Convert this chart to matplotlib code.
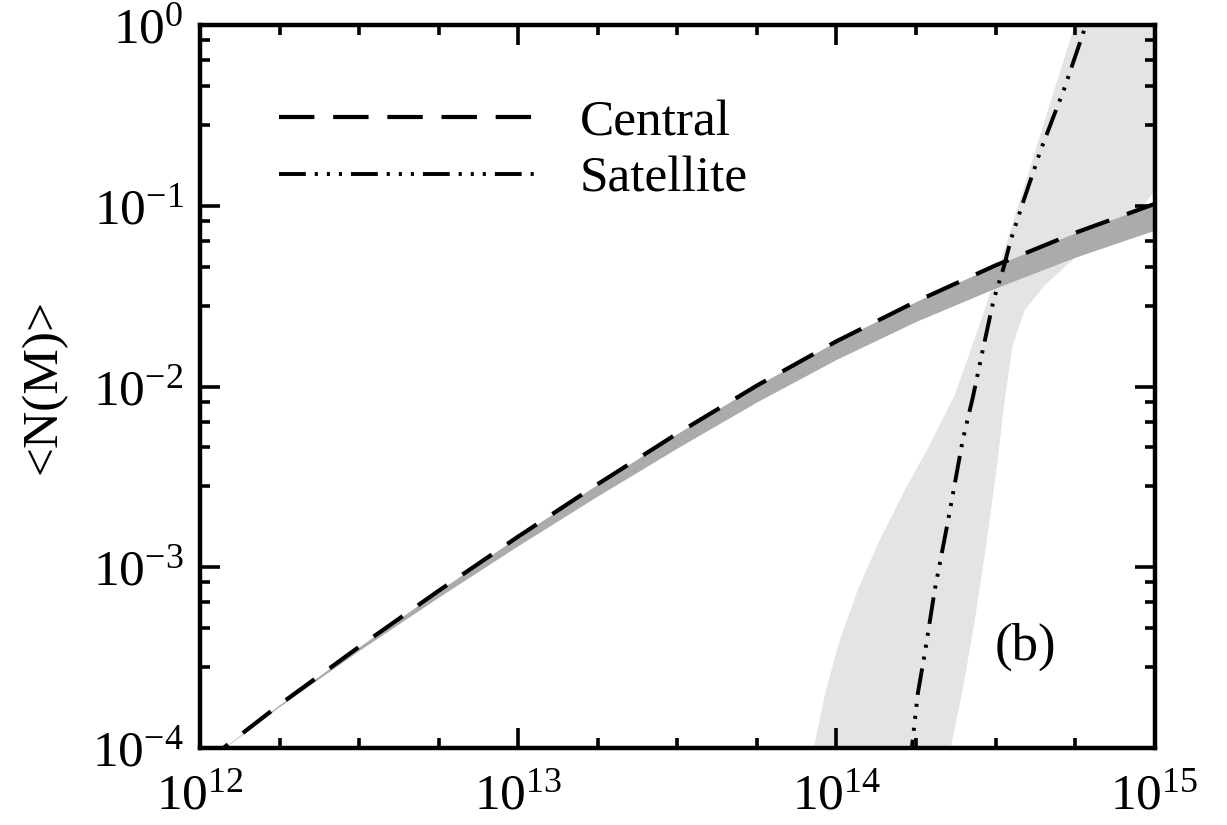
import numpy as np
import matplotlib
matplotlib.use("Agg")
import matplotlib.pyplot as plt
from matplotlib.ticker import LogLocator, NullFormatter, LogFormatterMathtext

plt.rcParams["font.family"] = ["Liberation Serif", "DejaVu Serif"]
plt.rcParams["mathtext.fontset"] = "custom"
plt.rcParams["mathtext.rm"] = "Liberation Serif"
plt.rcParams["mathtext.it"] = "Liberation Serif:italic"

# central occupation: log10 M grid, dashed line and lower edge of dark band
log_m = [12.0, 12.25, 12.5, 12.75, 13.0, 13.25, 13.5, 13.75, 14.0, 14.25, 14.5, 14.75, 15.0]
log_n_central = [-4.10, -3.76, -3.44, -3.13, -2.83, -2.54, -2.26, -1.995, -1.75, -1.53, -1.33, -1.15, -0.99]
log_n_central_lo = [-4.10, -3.77, -3.46, -3.165, -2.88, -2.605, -2.34, -2.085, -1.85, -1.64, -1.455, -1.285, -1.135]

# satellite occupation line
log_m_sat = [14.225, 14.237, 14.256, 14.278, 14.309, 14.353, 14.397, 14.429, 14.460, 14.494,
             14.526, 14.548, 14.589, 14.642, 14.718, 14.784, 14.80]
log_n_sat = [-4.10, -4.0, -3.696, -3.474, -3.126, -2.722, -2.296, -2.058, -1.798, -1.521,
             -1.339, -1.189, -0.968, -0.692, -0.343, 0.0, 0.08]

# satellite uncertainty band: upper (high-N) edge and lower (low-N) edge
log_m_sat_hi = [13.90, 13.929, 13.967, 14.011, 14.067, 14.136, 14.215, 14.293, 14.372,
                14.444, 14.513, 14.582, 14.655, 14.749, 14.796]
log_n_sat_hi = [-4.20, -4.0, -3.679, -3.402, -3.126, -2.850, -2.573, -2.324, -2.047,
                -1.688, -1.328, -0.940, -0.526, 0.0, 0.277]
log_m_sat_lo = [14.35, 14.359, 14.397, 14.435, 14.473, 14.504, 14.529, 14.554, 14.592,
                14.655, 14.749, 14.859, 14.953, 15.016]
log_n_sat_lo = [-4.20, -4.0, -3.679, -3.292, -2.849, -2.445, -2.075, -1.770, -1.577,
                -1.439, -1.289, -1.145, -1.024, -0.885]

fig = plt.figure(figsize=(12.27, 8.25), dpi=100)
ax = fig.add_axes([0.163, 0.0933, 0.778, 0.8764])
ax.set_xscale("log")
ax.set_yscale("log")
ax.set_xlim(1e12, 1e15)
ax.set_ylim(1e-4, 1e0)

m = 10.0 ** np.array(log_m)

# light band for satellites, closed through the top-right corner outside the axes
xmax, ymax = ax.get_xlim()[1] * 2, ax.get_ylim()[1] * 3
poly_x = np.concatenate([10.0 ** np.array(log_m_sat_hi), [xmax, xmax],
                         10.0 ** np.array(log_m_sat_lo)[::-1]])
poly_y = np.concatenate([10.0 ** np.array(log_n_sat_hi), [ymax, 10.0 ** log_n_sat_lo[-1]],
                         10.0 ** np.array(log_n_sat_lo)[::-1]])
ax.fill(poly_x, poly_y, color="#e4e4e4", lw=0, zorder=1)

# dark band for centrals
ax.fill_between(m, 10.0 ** np.array(log_n_central_lo), 10.0 ** np.array(log_n_central),
                color="#ababab", lw=0, zorder=2)

ax.plot(m, 10.0 ** np.array(log_n_central), color="black", lw=3.0,
        linestyle=(0, (8.5, 4.5)), label="Central", zorder=3)
ax.plot(10.0 ** np.array(log_m_sat), 10.0 ** np.array(log_n_sat), color="black", lw=2.8,
        linestyle=(0, (6.9, 2.3, 0.8, 2.3, 0.8, 2.3, 0.8, 2.3)), label="Satellite", zorder=4)

ax.set_ylabel("<N(M)>", fontsize=37)
ax.yaxis.set_label_coords(-0.14, 0.5)

ax.text(0.865, 0.14, "(b)", transform=ax.transAxes, fontsize=38, ha="center", va="center")

ax.legend(loc="upper left", bbox_to_anchor=(0.083, 0.897), frameon=False, fontsize=37,
          handlelength=5.1, handletextpad=0.75, labelspacing=0.18, borderpad=0, borderaxespad=0)

# ticks
ax.xaxis.set_major_locator(LogLocator(base=10, numticks=10))
ax.xaxis.set_minor_locator(LogLocator(base=10, subs=(10 ** 0.25, 10 ** 0.5, 10 ** 0.75), numticks=20))
ax.yaxis.set_major_locator(LogLocator(base=10, numticks=10))
ax.yaxis.set_minor_locator(LogLocator(base=10, subs=(2.8, 4.6, 6.4, 8.25), numticks=20))
ax.xaxis.set_major_formatter(LogFormatterMathtext())
ax.yaxis.set_major_formatter(LogFormatterMathtext())
ax.xaxis.set_minor_formatter(NullFormatter())
ax.yaxis.set_minor_formatter(NullFormatter())

ax.tick_params(which="both", direction="in", top=True, right=True, width=2.6, colors="black")
ax.tick_params(which="major", length=14.5)
ax.tick_params(which="minor", length=7.5)
ax.tick_params(axis="x", which="major", labelsize=37, pad=18)
ax.tick_params(axis="y", which="major", labelsize=37, pad=12)

for s in ax.spines.values():
    s.set_linewidth(3.2)

fig.savefig("out.png", dpi=100)
